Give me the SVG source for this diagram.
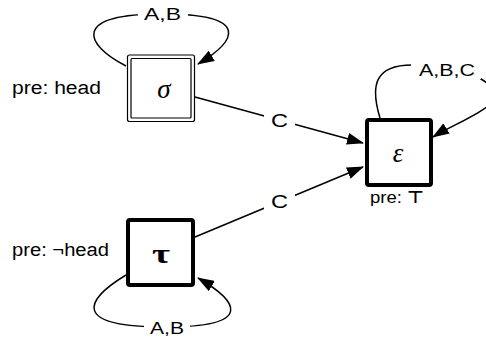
<svg xmlns="http://www.w3.org/2000/svg" width="486" height="343" viewBox="0 0 486 343">
<style>
  .edge { fill: none; stroke: #000; stroke-width: 1.5; }
  .lbl { font-family: "Liberation Sans", Arial, sans-serif; font-size: 17px; fill: #000; }
  .big { font-size: 18px; }
  .lblbg { fill: #fff; stroke: none; }
  .thin { fill: #fff; stroke: #000; stroke-width: 1.2; }
  .thinin { fill: none; stroke: #000; stroke-width: 1.2; }
  .thick { fill: #fff; stroke: #000; stroke-width: 4; }
  .greek { font-family: "Liberation Serif", "Times New Roman", serif; font-size: 27px; fill: #000; }
</style>
<defs>
  <marker id="arr" markerWidth="17" markerHeight="12" refX="16" refY="6" orient="auto" markerUnits="userSpaceOnUse">
    <path d="M0,0 L17,6 L0,12 z" fill="#000"/>
  </marker>
</defs>
<rect x="0" y="0" width="486" height="343" fill="#fff"/>
<g id="connectors">
  <path id="e-sigma-loop" class="edge" d="M126,66 C85,45 70,14 162,14 C254,14 235,42 198,64" marker-end="url(#arr)"/>
  <path id="e-sigma-eps" class="edge" d="M195,97 L363,143" marker-end="url(#arr)"/>
  <path id="e-tau-eps" class="edge" d="M195,237 L363,167" marker-end="url(#arr)"/>
  <path id="e-tau-loop" class="edge" d="M126,275 C85,300 70,327 165,327 C258,327 236,300 198,278" marker-end="url(#arr)"/>
  <path id="e-eps-loop" class="edge" d="M380,118 C370,85 375,65 412,65 C450,65 475,70 495,90 C505,105 455,123 433,137" marker-end="url(#arr)"/>
  <rect class="lblbg" x="138" y="4" width="50" height="20"/>
  <rect class="lblbg" x="144" y="318" width="46" height="20"/>
  <rect class="lblbg" x="264" y="110" width="31" height="21"/>
  <rect class="lblbg" x="264" y="190" width="31" height="22"/>
  <rect class="lblbg" x="411" y="57" width="70" height="22"/>
  <text class="lbl" x="144" y="20" textLength="37" lengthAdjust="spacingAndGlyphs">A,B</text>
  <text class="lbl" x="150" y="334" textLength="34" lengthAdjust="spacingAndGlyphs">A,B</text>
  <text class="lbl big" x="271" y="127" textLength="17" lengthAdjust="spacingAndGlyphs">C</text>
  <text class="lbl big" x="271" y="208" textLength="17" lengthAdjust="spacingAndGlyphs">C</text>
  <text class="lbl" x="419" y="76" textLength="56" lengthAdjust="spacingAndGlyphs">A,B,C</text>
</g>
<g id="node-sigma">
  <rect class="thin" x="127.5" y="55" width="67" height="66.5" rx="2"/>
  <rect class="thinin" x="131" y="58.5" width="60" height="59.5" rx="1"/>
  <text class="greek" x="164" y="98" text-anchor="middle" font-style="italic">σ</text>
  <text class="lbl big" x="12" y="94" textLength="89" lengthAdjust="spacingAndGlyphs">pre: head</text>
</g>
<g id="node-epsilon">
  <rect class="thick" x="367" y="120" width="64" height="65" rx="2"/>
  <text class="greek" x="398" y="162" text-anchor="middle" font-style="italic">ε</text>
  <text class="lbl" x="370" y="203" textLength="54" lengthAdjust="spacingAndGlyphs">pre: <tspan font-family="DejaVu Sans, sans-serif" font-weight="bold">⊤</tspan></text>
</g>
<g id="node-tau">
  <rect class="thick" x="128" y="220" width="65" height="65" rx="2"/>
  <text class="greek" x="161" y="263" text-anchor="middle" font-weight="bold" font-size="26" textLength="18" lengthAdjust="spacingAndGlyphs">τ</text>
  <text class="lbl big" x="12" y="256" textLength="97" lengthAdjust="spacingAndGlyphs">pre: ¬head</text>
</g>
</svg>
